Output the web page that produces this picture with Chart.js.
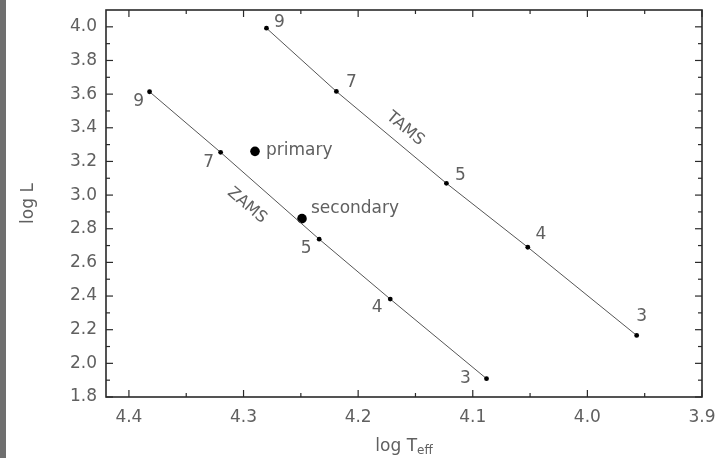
<!DOCTYPE html>
<html><head><meta charset="utf-8">
<script src="https://cdn.jsdelivr.net/npm/chart.js@4/dist/chart.umd.min.js"></script>
<style>html,body{margin:0;padding:0;background:#fff;}#wrap{width:720px;height:458px;position:relative;}</style>
</head><body><div id="wrap"><canvas id="c" width="720" height="458"></canvas></div>
<script>
// ---- data ----
const masses = [9, 7, 5, 4, 3];
const zamsLogT = [4.382, 4.320, 4.234, 4.172, 4.088];
const zamsLogL = [3.614, 3.254, 2.738, 2.382, 1.909];
const tamsLogT = [4.280, 4.219, 4.123, 4.052, 3.957];
const tamsLogL = [3.992, 3.616, 3.070, 2.690, 2.166];
const starNames = ['primary', 'secondary'];
const starLogT = [4.290, 4.249];
const starLogL = [3.26, 2.86];
const xTicks = [4.4, 4.3, 4.2, 4.1, 4.0, 3.9];
const xMinorTicks = [4.35, 4.25, 4.15, 4.05, 3.95];
const yTicks = [1.8, 2.0, 2.2, 2.4, 2.6, 2.8, 3.0, 3.2, 3.4, 3.6, 3.8, 4.0];
const yMinorTicks = [1.9, 2.1, 2.3, 2.5, 2.7, 2.9, 3.1, 3.3, 3.5, 3.7, 3.9];
const trackNames = ['ZAMS', 'TAMS'];
const trackLabelAt = [[4.297, 2.938], [4.159, 3.395]];

// ---- styles ----
const FONT = '"DejaVu Sans", sans-serif';
const TXT = '#606060';
const zamsLabelOffsets = [[-11, 10], [-12, 10], [-13, 9], [-13, 9], [-21, 0]];
const tamsLabelOffsets = [[13, -6], [15, -9], [14, -8], [13, -13], [5, -19]];
const starLabelOffsets = [[11, -1], [9, -10]];

const pts = (xs, ys) => xs.map((v, i) => ({x: v, y: ys[i]}));

const decor = {
  id: 'decor',
  beforeDraw(chart) {
    const c = chart.ctx;
    c.save();
    c.fillStyle = '#6f6f6f';
    c.fillRect(0, 0, 6, chart.height);
    c.restore();
  },
  afterDatasetsDraw(chart) {
    const c = chart.ctx, a = chart.chartArea, x = chart.scales.x, y = chart.scales.y;
    c.save();
    // frame
    c.strokeStyle = '#2a2a2a';
    c.lineWidth = 1.6;
    c.strokeRect(a.left, a.top, a.right - a.left, a.bottom - a.top);
    c.lineWidth = 1.2;
    const seg = (x1, y1, x2, y2) => { c.beginPath(); c.moveTo(x1, y1); c.lineTo(x2, y2); c.stroke(); };
    const xt = (v, len) => { const p = x.getPixelForValue(v); seg(p, a.bottom, p, a.bottom - len); seg(p, a.top, p, a.top + len); };
    const yt = (v, len) => { const p = y.getPixelForValue(v); seg(a.left, p, a.left + len, p); seg(a.right, p, a.right - len, p); };
    xTicks.forEach(v => xt(v, 7)); xMinorTicks.forEach(v => xt(v, 4));
    yTicks.forEach(v => yt(v, 7)); yMinorTicks.forEach(v => yt(v, 4));

    c.fillStyle = TXT;
    c.font = '17px ' + FONT;
    c.textAlign = 'center'; c.textBaseline = 'middle';
    const m0 = chart.getDatasetMeta(0).data, m1 = chart.getDatasetMeta(1).data, m2 = chart.getDatasetMeta(2).data;
    masses.forEach((m, i) => {
      c.fillText(String(m), m0[i].x + zamsLabelOffsets[i][0], m0[i].y + zamsLabelOffsets[i][1]);
      c.fillText(String(m), m1[i].x + tamsLabelOffsets[i][0], m1[i].y + tamsLabelOffsets[i][1]);
    });
    c.textAlign = 'left';
    starNames.forEach((n, i) => {
      c.fillText(n, m2[i].x + starLabelOffsets[i][0], m2[i].y + starLabelOffsets[i][1]);
    });
    // track names rotated along tracks
    const tracks = [[zamsLogT, zamsLogL], [tamsLogT, tamsLogL]];
    c.font = '16px ' + FONT;
    c.textAlign = 'center';
    trackNames.forEach((n, i) => {
      const T = tracks[i][0], L = tracks[i][1];
      const x1 = x.getPixelForValue(T[0]), y1 = y.getPixelForValue(L[0]);
      const x2 = x.getPixelForValue(T[T.length - 1]), y2 = y.getPixelForValue(L[L.length - 1]);
      const ang = Math.atan2(y2 - y1, x2 - x1);
      c.save();
      c.translate(x.getPixelForValue(trackLabelAt[i][0]), y.getPixelForValue(trackLabelAt[i][1]));
      c.rotate(ang);
      c.fillText(n, 0, 0);
      c.restore();
    });
    // axis titles
    c.font = '17px ' + FONT;
    c.textBaseline = 'alphabetic';
    c.save();
    c.translate(33, (a.top + a.bottom) / 2);
    c.rotate(-Math.PI / 2);
    c.textAlign = 'center';
    c.fillText('log L', 0, 0);
    c.restore();
    const main = 'log T', sub = 'eff';
    c.font = '17px ' + FONT;
    const w1 = c.measureText(main).width;
    c.font = '12px ' + FONT;
    const w2 = c.measureText(sub).width;
    const sx = (a.left + a.right) / 2 - (w1 + w2) / 2;
    c.textAlign = 'left';
    c.font = '17px ' + FONT;
    c.fillText(main, sx, 451);
    c.font = '12px ' + FONT;
    c.fillText(sub, sx + w1, 454);
    c.restore();
  }
};

new Chart(document.getElementById('c'), {
  type: 'scatter',
  data: {
    datasets: [
      {label: 'ZAMS', data: pts(zamsLogT, zamsLogL), showLine: true, borderColor: '#555', borderWidth: 1,
       pointRadius: 2.4, pointBackgroundColor: '#000', pointBorderWidth: 0},
      {label: 'TAMS', data: pts(tamsLogT, tamsLogL), showLine: true, borderColor: '#555', borderWidth: 1,
       pointRadius: 2.4, pointBackgroundColor: '#000', pointBorderWidth: 0},
      {label: 'stars', data: pts(starLogT, starLogL), showLine: false,
       pointRadius: 4.8, pointBackgroundColor: '#000', pointBorderWidth: 0}
    ]
  },
  options: {
    responsive: false, animation: false,
    layout: {padding: {top: 10, right: 18, left: 0, bottom: 0}},
    plugins: {legend: {display: false}, tooltip: {enabled: false}},
    scales: {
      x: {
        type: 'linear', min: 3.9, max: 4.42, reverse: true,
        afterBuildTicks: s => { s.ticks = xTicks.map(v => ({value: v})); },
        afterFit: s => { s.height = 61; s.paddingLeft = 0; s.paddingRight = 0; },
        grid: {display: false, drawTicks: false}, border: {display: false},
        ticks: {padding: 10, color: TXT, font: {family: FONT, size: 17}, callback: v => Number(v).toFixed(1), maxRotation: 0}
      },
      y: {
        type: 'linear', min: 1.8, max: 4.1,
        afterBuildTicks: s => { s.ticks = yTicks.map(v => ({value: v})); },
        afterFit: s => { s.width = 106; s.paddingTop = 0; s.paddingBottom = 0; },
        grid: {display: false, drawTicks: false}, border: {display: false},
        ticks: {padding: 9, color: TXT, font: {family: FONT, size: 17}, callback: v => Number(v).toFixed(1)}
      }
    }
  },
  plugins: [decor]
});
</script></body></html>
